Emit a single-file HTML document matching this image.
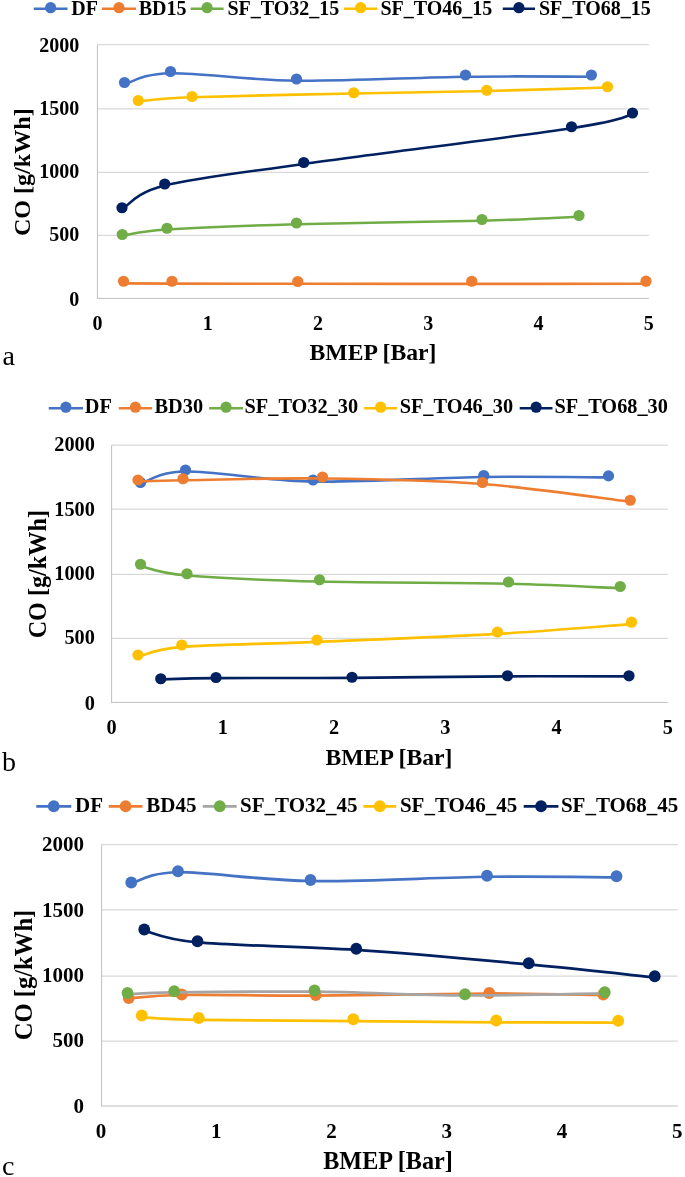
<!DOCTYPE html>
<html><head><meta charset="utf-8"><title>CO vs BMEP</title>
<style>
html,body{margin:0;padding:0;background:#fff;}
body{width:685px;height:1177px;overflow:hidden;}
svg{display:block;will-change:transform;}
.t{font-family:"Liberation Serif",serif;font-weight:bold;fill:#000;}
.p{font-family:"Liberation Serif",serif;font-weight:normal;fill:#000;}
</style></head><body>
<svg width="685" height="1177" viewBox="0 0 685 1177">
<rect width="685" height="1177" fill="#fff"/>
<line x1="97.40" y1="235.40" x2="648.80" y2="235.40" stroke="#D9D9D9" stroke-width="1.2"/>
<line x1="97.40" y1="172.40" x2="648.80" y2="172.40" stroke="#D9D9D9" stroke-width="1.2"/>
<line x1="97.40" y1="108.90" x2="648.80" y2="108.90" stroke="#D9D9D9" stroke-width="1.2"/>
<line x1="97.40" y1="44.70" x2="648.80" y2="44.70" stroke="#D9D9D9" stroke-width="1.2"/>
<line x1="97.40" y1="44.70" x2="97.40" y2="298.90" stroke="#BFBFBF" stroke-width="1"/>
<line x1="96.90" y1="298.40" x2="648.80" y2="298.40" stroke="#BFBFBF" stroke-width="1"/>
<text x="79.30" y="306.00" class="t" style="font-size:20.00px" text-anchor="end">0</text>
<text x="79.30" y="241.10" class="t" style="font-size:20.00px" text-anchor="end">500</text>
<text x="79.30" y="178.00" class="t" style="font-size:20.00px" text-anchor="end">1000</text>
<text x="79.30" y="114.80" class="t" style="font-size:20.00px" text-anchor="end">1500</text>
<text x="79.30" y="51.65" class="t" style="font-size:20.00px" text-anchor="end">2000</text>
<text x="97.40" y="330.00" class="t" style="font-size:20.00px" text-anchor="middle">0</text>
<text x="207.68" y="330.00" class="t" style="font-size:20.00px" text-anchor="middle">1</text>
<text x="317.96" y="330.00" class="t" style="font-size:20.00px" text-anchor="middle">2</text>
<text x="428.24" y="330.00" class="t" style="font-size:20.00px" text-anchor="middle">3</text>
<text x="538.52" y="330.00" class="t" style="font-size:20.00px" text-anchor="middle">4</text>
<text x="648.80" y="330.00" class="t" style="font-size:20.00px" text-anchor="middle">5</text>
<text x="373.00" y="359.80" class="t" style="font-size:23.70px" text-anchor="middle">BMEP [Bar]</text>
<text transform="translate(30.00,172.20) rotate(-90)" class="t" style="font-size:24.10px" text-anchor="middle">CO [g/kWh]</text>
<text x="2.50" y="365.20" class="p" style="font-size:28.00px">a</text>
<path d="M124.50,84.20 C132.17,82.37 141.83,73.78 170.50,73.20 C199.17,72.62 247.33,80.12 296.50,80.70 C345.67,81.28 416.35,77.37 465.50,76.70 C514.65,76.03 570.42,76.70 591.40,76.70" fill="none" stroke="#4472C4" stroke-width="2.60" stroke-linecap="round" stroke-linejoin="round"/>
<circle cx="124.50" cy="82.50" r="5.60" fill="#4472C4"/>
<circle cx="170.50" cy="71.50" r="5.60" fill="#4472C4"/>
<circle cx="296.50" cy="79.00" r="5.60" fill="#4472C4"/>
<circle cx="465.50" cy="75.00" r="5.60" fill="#4472C4"/>
<circle cx="591.40" cy="75.00" r="5.60" fill="#4472C4"/>
<path d="M123.50,283.40 C131.58,283.43 142.96,283.53 172.00,283.60 C201.04,283.67 247.79,283.75 297.75,283.80 C347.71,283.85 413.71,283.90 471.75,283.90 C529.79,283.90 616.96,283.82 646.00,283.80" fill="none" stroke="#ED7D31" stroke-width="2.60" stroke-linecap="round" stroke-linejoin="round"/>
<circle cx="123.50" cy="281.25" r="5.60" fill="#ED7D31"/>
<circle cx="172.00" cy="281.25" r="5.60" fill="#ED7D31"/>
<circle cx="297.75" cy="281.50" r="5.60" fill="#ED7D31"/>
<circle cx="471.75" cy="281.25" r="5.60" fill="#ED7D31"/>
<circle cx="646.00" cy="281.20" r="5.60" fill="#ED7D31"/>
<path d="M122.25,235.70 C129.71,234.66 137.96,231.37 167.00,229.45 C196.04,227.53 244.00,225.66 296.50,224.20 C349.00,222.74 434.92,221.95 482.00,220.70 C529.08,219.45 562.83,217.37 579.00,216.70" fill="none" stroke="#70AD47" stroke-width="2.60" stroke-linecap="round" stroke-linejoin="round"/>
<circle cx="122.25" cy="234.50" r="5.60" fill="#70AD47"/>
<circle cx="167.00" cy="228.25" r="5.60" fill="#70AD47"/>
<circle cx="296.50" cy="223.00" r="5.60" fill="#70AD47"/>
<circle cx="482.00" cy="219.50" r="5.60" fill="#70AD47"/>
<circle cx="579.00" cy="215.50" r="5.60" fill="#70AD47"/>
<path d="M138.25,101.20 C147.21,100.53 156.08,98.49 192.00,97.20 C227.92,95.91 304.62,94.49 353.75,93.45 C402.88,92.41 444.46,91.95 486.75,90.95 C529.04,89.95 587.38,88.03 607.50,87.45" fill="none" stroke="#FFC000" stroke-width="2.60" stroke-linecap="round" stroke-linejoin="round"/>
<circle cx="138.25" cy="100.50" r="5.60" fill="#FFC000"/>
<circle cx="192.00" cy="96.50" r="5.60" fill="#FFC000"/>
<circle cx="353.75" cy="92.75" r="5.60" fill="#FFC000"/>
<circle cx="486.75" cy="90.25" r="5.60" fill="#FFC000"/>
<circle cx="607.50" cy="86.75" r="5.60" fill="#FFC000"/>
<path d="M122.00,209.25 C129.12,205.29 134.46,193.04 164.75,185.50 C195.04,177.96 235.96,173.54 303.75,164.00 C371.54,154.46 516.71,136.50 571.50,128.25 C626.29,120.00 622.33,116.79 632.50,114.50" fill="none" stroke="#002060" stroke-width="2.60" stroke-linecap="round" stroke-linejoin="round"/>
<circle cx="122.00" cy="207.75" r="5.60" fill="#002060"/>
<circle cx="164.75" cy="184.00" r="5.60" fill="#002060"/>
<circle cx="303.75" cy="162.50" r="5.60" fill="#002060"/>
<circle cx="571.50" cy="126.75" r="5.60" fill="#002060"/>
<circle cx="632.50" cy="113.00" r="5.60" fill="#002060"/>
<line x1="33.75" y1="8.70" x2="67.50" y2="8.70" stroke="#4472C4" stroke-width="2.60"/>
<circle cx="50.62" cy="7.70" r="5.60" fill="#4472C4"/>
<text x="71.20" y="14.70" class="t" style="font-size:20.00px">DF</text>
<line x1="102.00" y1="8.70" x2="136.00" y2="8.70" stroke="#ED7D31" stroke-width="2.60"/>
<circle cx="119.00" cy="7.70" r="5.60" fill="#ED7D31"/>
<text x="138.70" y="14.70" class="t" style="font-size:20.00px">BD15</text>
<line x1="190.60" y1="8.70" x2="223.60" y2="8.70" stroke="#70AD47" stroke-width="2.60"/>
<circle cx="207.10" cy="7.70" r="5.60" fill="#70AD47"/>
<text x="227.40" y="14.70" class="t" style="font-size:20.00px">SF_TO32_15</text>
<line x1="344.00" y1="8.70" x2="377.30" y2="8.70" stroke="#FFC000" stroke-width="2.60"/>
<circle cx="360.65" cy="7.70" r="5.60" fill="#FFC000"/>
<text x="380.40" y="14.70" class="t" style="font-size:20.00px">SF_TO46_15</text>
<line x1="502.80" y1="8.70" x2="535.00" y2="8.70" stroke="#002060" stroke-width="2.60"/>
<circle cx="518.90" cy="7.70" r="5.60" fill="#002060"/>
<text x="538.90" y="14.70" class="t" style="font-size:20.00px">SF_TO68_15</text>
<line x1="111.60" y1="638.40" x2="667.85" y2="638.40" stroke="#D9D9D9" stroke-width="1.2"/>
<line x1="111.60" y1="574.40" x2="667.85" y2="574.40" stroke="#D9D9D9" stroke-width="1.2"/>
<line x1="111.60" y1="509.05" x2="667.85" y2="509.05" stroke="#D9D9D9" stroke-width="1.2"/>
<line x1="111.60" y1="445.20" x2="667.85" y2="445.20" stroke="#D9D9D9" stroke-width="1.2"/>
<line x1="111.60" y1="445.20" x2="111.60" y2="702.90" stroke="#BFBFBF" stroke-width="1"/>
<line x1="111.10" y1="702.40" x2="667.85" y2="702.40" stroke="#BFBFBF" stroke-width="1"/>
<text x="94.80" y="709.91" class="t" style="font-size:20.30px" text-anchor="end">0</text>
<text x="94.80" y="644.30" class="t" style="font-size:20.30px" text-anchor="end">500</text>
<text x="94.80" y="580.10" class="t" style="font-size:20.30px" text-anchor="end">1000</text>
<text x="94.80" y="516.00" class="t" style="font-size:20.30px" text-anchor="end">1500</text>
<text x="94.80" y="450.70" class="t" style="font-size:20.30px" text-anchor="end">2000</text>
<text x="111.60" y="733.70" class="t" style="font-size:20.30px" text-anchor="middle">0</text>
<text x="222.85" y="733.70" class="t" style="font-size:20.30px" text-anchor="middle">1</text>
<text x="334.10" y="733.70" class="t" style="font-size:20.30px" text-anchor="middle">2</text>
<text x="445.35" y="733.70" class="t" style="font-size:20.30px" text-anchor="middle">3</text>
<text x="556.60" y="733.70" class="t" style="font-size:20.30px" text-anchor="middle">4</text>
<text x="667.85" y="733.70" class="t" style="font-size:20.30px" text-anchor="middle">5</text>
<text x="389.00" y="764.80" class="t" style="font-size:23.70px" text-anchor="middle">BMEP [Bar]</text>
<text transform="translate(45.60,574.20) rotate(-90)" class="t" style="font-size:24.20px" text-anchor="middle">CO [g/kWh]</text>
<text x="2.00" y="770.50" class="p" style="font-size:28.00px">b</text>
<path d="M140.50,484.00 C148.00,481.92 156.75,471.92 185.50,471.50 C214.25,471.08 263.29,480.58 313.00,481.50 C362.71,482.42 434.50,477.68 483.75,477.00 C533.00,476.32 587.71,477.33 608.50,477.40" fill="none" stroke="#4472C4" stroke-width="2.60" stroke-linecap="round" stroke-linejoin="round"/>
<circle cx="140.50" cy="482.50" r="5.60" fill="#4472C4"/>
<circle cx="185.50" cy="470.00" r="5.60" fill="#4472C4"/>
<circle cx="313.00" cy="480.00" r="5.60" fill="#4472C4"/>
<circle cx="483.75" cy="475.50" r="5.60" fill="#4472C4"/>
<circle cx="608.50" cy="475.90" r="5.60" fill="#4472C4"/>
<path d="M138.00,481.50 C145.50,481.29 152.25,480.75 183.00,480.25 C213.75,479.75 272.58,477.88 322.50,478.50 C372.42,479.12 431.21,480.12 482.50,484.00 C533.79,487.88 605.62,498.79 630.25,501.75" fill="none" stroke="#ED7D31" stroke-width="2.60" stroke-linecap="round" stroke-linejoin="round"/>
<circle cx="138.00" cy="480.00" r="5.60" fill="#ED7D31"/>
<circle cx="183.00" cy="478.75" r="5.60" fill="#ED7D31"/>
<circle cx="322.50" cy="477.00" r="5.60" fill="#ED7D31"/>
<circle cx="482.50" cy="482.50" r="5.60" fill="#ED7D31"/>
<circle cx="630.25" cy="500.25" r="5.60" fill="#ED7D31"/>
<path d="M140.50,566.05 C148.25,567.63 157.17,572.97 187.00,575.55 C216.83,578.13 265.92,580.17 319.50,581.55 C373.08,582.92 458.38,582.67 508.50,583.80 C558.62,584.92 601.62,587.55 620.25,588.30" fill="none" stroke="#70AD47" stroke-width="2.60" stroke-linecap="round" stroke-linejoin="round"/>
<circle cx="140.50" cy="564.25" r="5.60" fill="#70AD47"/>
<circle cx="187.00" cy="573.75" r="5.60" fill="#70AD47"/>
<circle cx="319.50" cy="579.75" r="5.60" fill="#70AD47"/>
<circle cx="508.50" cy="582.00" r="5.60" fill="#70AD47"/>
<circle cx="620.25" cy="586.50" r="5.60" fill="#70AD47"/>
<path d="M138.00,656.90 C145.29,655.23 151.92,649.40 181.75,646.90 C211.58,644.40 264.38,644.07 317.00,641.90 C369.62,639.73 445.08,636.87 497.50,633.90 C549.92,630.93 609.17,625.73 631.50,624.10" fill="none" stroke="#FFC000" stroke-width="2.60" stroke-linecap="round" stroke-linejoin="round"/>
<circle cx="138.00" cy="655.00" r="5.60" fill="#FFC000"/>
<circle cx="181.75" cy="645.00" r="5.60" fill="#FFC000"/>
<circle cx="317.00" cy="640.00" r="5.60" fill="#FFC000"/>
<circle cx="497.50" cy="632.00" r="5.60" fill="#FFC000"/>
<circle cx="631.50" cy="622.20" r="5.60" fill="#FFC000"/>
<path d="M160.75,679.35 C169.96,679.14 184.12,678.35 216.00,678.10 C247.88,677.85 303.42,678.14 352.00,677.85 C400.58,677.56 461.33,676.59 507.50,676.35 C553.67,676.11 608.75,676.39 629.00,676.40" fill="none" stroke="#002060" stroke-width="2.60" stroke-linecap="round" stroke-linejoin="round"/>
<circle cx="160.75" cy="678.75" r="5.60" fill="#002060"/>
<circle cx="216.00" cy="677.50" r="5.60" fill="#002060"/>
<circle cx="352.00" cy="677.25" r="5.60" fill="#002060"/>
<circle cx="507.50" cy="675.75" r="5.60" fill="#002060"/>
<circle cx="629.00" cy="675.80" r="5.60" fill="#002060"/>
<line x1="48.75" y1="408.20" x2="83.00" y2="408.20" stroke="#4472C4" stroke-width="2.60"/>
<circle cx="65.88" cy="407.20" r="5.60" fill="#4472C4"/>
<text x="84.75" y="413.30" class="t" style="font-size:20.30px">DF</text>
<line x1="118.75" y1="408.20" x2="152.00" y2="408.20" stroke="#ED7D31" stroke-width="2.60"/>
<circle cx="135.38" cy="407.20" r="5.60" fill="#ED7D31"/>
<text x="154.60" y="413.30" class="t" style="font-size:20.30px">BD30</text>
<line x1="209.10" y1="408.20" x2="243.00" y2="408.20" stroke="#70AD47" stroke-width="2.60"/>
<circle cx="226.05" cy="407.20" r="5.60" fill="#70AD47"/>
<text x="244.60" y="413.30" class="t" style="font-size:20.30px">SF_TO32_30</text>
<line x1="364.20" y1="408.20" x2="397.10" y2="408.20" stroke="#FFC000" stroke-width="2.60"/>
<circle cx="380.65" cy="407.20" r="5.60" fill="#FFC000"/>
<text x="399.70" y="413.30" class="t" style="font-size:20.30px">SF_TO46_30</text>
<line x1="519.70" y1="408.20" x2="552.50" y2="408.20" stroke="#002060" stroke-width="2.60"/>
<circle cx="536.10" cy="407.20" r="5.60" fill="#002060"/>
<text x="554.40" y="413.30" class="t" style="font-size:20.30px">SF_TO68_30</text>
<line x1="101.60" y1="1041.20" x2="677.85" y2="1041.20" stroke="#D9D9D9" stroke-width="1.2"/>
<line x1="101.60" y1="976.20" x2="677.85" y2="976.20" stroke="#D9D9D9" stroke-width="1.2"/>
<line x1="101.60" y1="909.80" x2="677.85" y2="909.80" stroke="#D9D9D9" stroke-width="1.2"/>
<line x1="101.60" y1="844.60" x2="677.85" y2="844.60" stroke="#D9D9D9" stroke-width="1.2"/>
<line x1="101.60" y1="844.60" x2="101.60" y2="1106.50" stroke="#BFBFBF" stroke-width="1"/>
<line x1="101.10" y1="1106.00" x2="677.85" y2="1106.00" stroke="#BFBFBF" stroke-width="1"/>
<text x="84.00" y="1112.57" class="t" style="font-size:21.00px" text-anchor="end">0</text>
<text x="84.00" y="1047.14" class="t" style="font-size:21.00px" text-anchor="end">500</text>
<text x="84.00" y="982.04" class="t" style="font-size:21.00px" text-anchor="end">1000</text>
<text x="84.00" y="917.14" class="t" style="font-size:21.00px" text-anchor="end">1500</text>
<text x="84.00" y="850.74" class="t" style="font-size:21.00px" text-anchor="end">2000</text>
<text x="100.90" y="1137.50" class="t" style="font-size:21.00px" text-anchor="middle">0</text>
<text x="216.15" y="1137.50" class="t" style="font-size:21.00px" text-anchor="middle">1</text>
<text x="331.40" y="1137.50" class="t" style="font-size:21.00px" text-anchor="middle">2</text>
<text x="446.65" y="1137.50" class="t" style="font-size:21.00px" text-anchor="middle">3</text>
<text x="561.90" y="1137.50" class="t" style="font-size:21.00px" text-anchor="middle">4</text>
<text x="677.15" y="1137.50" class="t" style="font-size:21.00px" text-anchor="middle">5</text>
<text x="388.00" y="1169.20" class="t" style="font-size:24.20px" text-anchor="middle">BMEP [Bar]</text>
<text transform="translate(32.40,975.00) rotate(-90)" class="t" style="font-size:24.60px" text-anchor="middle">CO [g/kWh]</text>
<text x="2.00" y="1175.00" class="p" style="font-size:28.00px">c</text>
<path d="M131.25,883.50 C139.04,881.62 148.12,872.67 178.00,872.25 C207.88,871.83 259.00,880.25 310.50,881.00 C362.00,881.75 436.00,877.38 487.00,876.75 C538.00,876.12 594.92,877.17 616.50,877.25" fill="none" stroke="#4472C4" stroke-width="2.75" stroke-linecap="round" stroke-linejoin="round"/>
<circle cx="131.25" cy="882.50" r="5.90" fill="#4472C4"/>
<circle cx="178.00" cy="871.25" r="5.90" fill="#4472C4"/>
<circle cx="310.50" cy="880.00" r="5.90" fill="#4472C4"/>
<circle cx="487.00" cy="875.75" r="5.90" fill="#4472C4"/>
<circle cx="616.50" cy="876.25" r="5.90" fill="#4472C4"/>
<path d="M128.75,998.50 C137.58,997.92 150.58,995.50 181.75,995.00 C212.92,994.50 264.50,995.75 315.75,995.50 C367.00,995.25 441.33,993.58 489.25,993.50 C537.17,993.42 584.25,994.75 603.25,995.00" fill="none" stroke="#ED7D31" stroke-width="2.75" stroke-linecap="round" stroke-linejoin="round"/>
<circle cx="128.75" cy="998.00" r="5.90" fill="#ED7D31"/>
<circle cx="181.75" cy="994.50" r="5.90" fill="#ED7D31"/>
<circle cx="315.75" cy="995.00" r="5.90" fill="#ED7D31"/>
<circle cx="489.25" cy="993.00" r="5.90" fill="#ED7D31"/>
<circle cx="603.25" cy="994.50" r="5.90" fill="#ED7D31"/>
<path d="M127.50,994.20 C135.29,993.91 143.08,992.87 174.25,992.45 C205.42,992.03 266.04,991.20 314.50,991.70 C362.96,992.20 416.62,995.16 465.00,995.45 C513.38,995.74 581.46,993.78 604.75,993.45" fill="none" stroke="#A5A5A5" stroke-width="2.75" stroke-linecap="round" stroke-linejoin="round"/>
<circle cx="127.50" cy="993.00" r="5.90" fill="#70AD47"/>
<circle cx="174.25" cy="991.25" r="5.90" fill="#70AD47"/>
<circle cx="314.50" cy="990.50" r="5.90" fill="#70AD47"/>
<circle cx="465.00" cy="994.25" r="5.90" fill="#70AD47"/>
<circle cx="604.75" cy="992.25" r="5.90" fill="#70AD47"/>
<path d="M141.75,1017.30 C151.25,1017.72 163.50,1019.17 198.75,1019.80 C234.00,1020.42 303.67,1020.63 353.25,1021.05 C402.83,1021.47 452.08,1022.05 496.25,1022.30 C540.42,1022.55 597.92,1022.51 618.25,1022.55" fill="none" stroke="#FFC000" stroke-width="2.75" stroke-linecap="round" stroke-linejoin="round"/>
<circle cx="141.75" cy="1015.50" r="5.90" fill="#FFC000"/>
<circle cx="198.75" cy="1018.00" r="5.90" fill="#FFC000"/>
<circle cx="353.25" cy="1019.25" r="5.90" fill="#FFC000"/>
<circle cx="496.25" cy="1020.50" r="5.90" fill="#FFC000"/>
<circle cx="618.25" cy="1020.75" r="5.90" fill="#FFC000"/>
<path d="M144.25,930.70 C153.12,932.66 162.17,939.24 197.50,942.45 C232.83,945.66 301.04,946.28 356.25,949.95 C411.46,953.62 479.00,959.87 528.75,964.45 C578.50,969.03 633.75,975.28 654.75,977.45" fill="none" stroke="#002060" stroke-width="2.75" stroke-linecap="round" stroke-linejoin="round"/>
<circle cx="144.25" cy="929.50" r="5.90" fill="#002060"/>
<circle cx="197.50" cy="941.25" r="5.90" fill="#002060"/>
<circle cx="356.25" cy="948.75" r="5.90" fill="#002060"/>
<circle cx="528.75" cy="963.25" r="5.90" fill="#002060"/>
<circle cx="654.75" cy="976.25" r="5.90" fill="#002060"/>
<line x1="36.25" y1="806.25" x2="71.25" y2="806.25" stroke="#4472C4" stroke-width="2.75"/>
<circle cx="53.75" cy="806.25" r="5.90" fill="#4472C4"/>
<text x="75.00" y="812.00" class="t" style="font-size:21.00px">DF</text>
<line x1="108.75" y1="806.25" x2="142.50" y2="806.25" stroke="#ED7D31" stroke-width="2.75"/>
<circle cx="125.62" cy="806.25" r="5.90" fill="#ED7D31"/>
<text x="146.25" y="812.00" class="t" style="font-size:21.00px">BD45</text>
<line x1="202.80" y1="806.25" x2="236.70" y2="806.25" stroke="#A5A5A5" stroke-width="2.75"/>
<circle cx="219.75" cy="806.25" r="5.90" fill="#70AD47"/>
<text x="240.00" y="812.00" class="t" style="font-size:21.00px">SF_TO32_45</text>
<line x1="363.40" y1="806.25" x2="396.20" y2="806.25" stroke="#FFC000" stroke-width="2.75"/>
<circle cx="379.80" cy="806.25" r="5.90" fill="#FFC000"/>
<text x="399.90" y="812.00" class="t" style="font-size:21.00px">SF_TO46_45</text>
<line x1="523.70" y1="806.25" x2="558.40" y2="806.25" stroke="#002060" stroke-width="2.75"/>
<circle cx="541.05" cy="806.25" r="5.90" fill="#002060"/>
<text x="560.90" y="812.00" class="t" style="font-size:21.00px">SF_TO68_45</text>
</svg>
</body></html>
